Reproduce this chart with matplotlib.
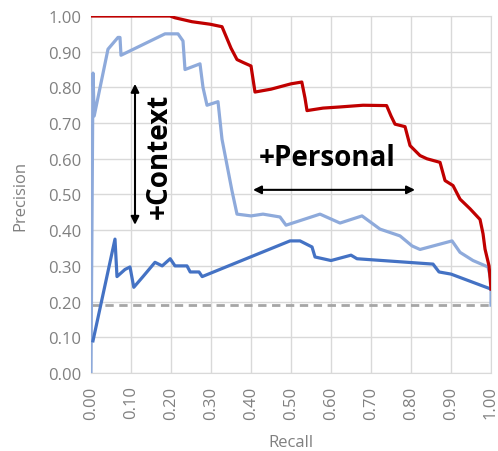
import matplotlib
matplotlib.use("Agg")
import matplotlib.pyplot as plt

plt.rcParams['font.family'] = ['Open Sans', 'DejaVu Sans']

# recall / precision
personal_x = [0.0, 0.1975, 0.21, 0.2525, 0.2975, 0.3275, 0.335, 0.35, 0.365, 0.38, 0.40,
              0.41, 0.45, 0.50, 0.527, 0.535, 0.54, 0.58, 0.62, 0.68, 0.739, 0.75, 0.76,
              0.785, 0.7975, 0.8225, 0.84, 0.8725, 0.885, 0.905, 0.9225, 0.9475, 0.9725,
              0.98, 0.985, 0.995, 1.0]
personal_y = [1.0, 1.0, 0.995, 0.984, 0.977, 0.97, 0.95, 0.91, 0.878, 0.87, 0.86,
              0.787, 0.795, 0.81, 0.815, 0.77, 0.735, 0.742, 0.745, 0.75, 0.749, 0.72, 0.697,
              0.69, 0.637, 0.609, 0.60, 0.59, 0.539, 0.525, 0.487, 0.46, 0.43,
              0.39, 0.347, 0.30, 0.235]

context_x = [0.0, 0.005, 0.008, 0.0425, 0.0675, 0.0725, 0.075, 0.185, 0.2175, 0.23, 0.235,
             0.2725, 0.28, 0.29, 0.3175, 0.3275, 0.3525, 0.365, 0.40, 0.43, 0.4725, 0.4875,
             0.5725, 0.6225, 0.6775, 0.7225, 0.7725, 0.8025, 0.8225, 0.9025, 0.9225, 0.955,
             0.9925, 1.0, 1.0]
context_y = [0.0, 0.84, 0.72, 0.907, 0.94, 0.94, 0.89, 0.95, 0.95, 0.93, 0.85,
             0.866, 0.80, 0.75, 0.76, 0.655, 0.51, 0.445, 0.44, 0.445, 0.437, 0.414,
             0.445, 0.42, 0.44, 0.403, 0.384, 0.356, 0.346, 0.37, 0.338, 0.315,
             0.297, 0.26, 0.19]

base_x = [0.005, 0.06, 0.065, 0.085, 0.0975, 0.107, 0.13, 0.16, 0.178, 0.198, 0.21, 0.24,
          0.248, 0.27, 0.278, 0.4975, 0.5225, 0.5525, 0.56, 0.60, 0.65, 0.665, 0.855,
          0.87, 0.90, 1.0]
base_y = [0.09, 0.375, 0.27, 0.29, 0.297, 0.24, 0.27, 0.31, 0.30, 0.32, 0.30, 0.30,
          0.283, 0.283, 0.27, 0.37, 0.37, 0.353, 0.325, 0.315, 0.33, 0.32, 0.305,
          0.283, 0.277, 0.235]

random_level = 0.19
ticks = [i / 10 for i in range(11)]
tick_labels = ['%.2f' % t for t in ticks]

fig = plt.figure(figsize=(4.98, 4.52), dpi=100)
ax = fig.add_axes([0.1827, 0.1726, 0.8033, 0.7898])

grid_c = '#d9d9d9'
label_c = '#808080'

ax.axhline(random_level, color='#a6a6a6', linestyle=(0, (3, 2)), linewidth=2, zorder=2)
ax.plot(context_x, context_y, color='#8eaadb', linewidth=2.3, zorder=3)
ax.plot(base_x, base_y, color='#4472c4', linewidth=2.3, zorder=4)
ax.plot(personal_x, personal_y, color='#c00000', linewidth=2.3, zorder=5)

ax.set_xlim(0, 1)
ax.set_ylim(0, 1)
ax.set_xticks(ticks)
ax.set_yticks(ticks)
ax.set_xticklabels(tick_labels, rotation=90, fontsize=12, color=label_c)
ax.set_yticklabels(tick_labels, fontsize=12, color=label_c)
ax.tick_params(axis='y', length=0, pad=7)
ax.tick_params(axis='x', length=0, pad=9)
ax.grid(True, color=grid_c, linewidth=1)
ax.set_axisbelow(True)
for s in ax.spines.values():
    s.set_color(grid_c)

ax.set_xlabel('Recall', fontsize=12, color=label_c, labelpad=11)
ax.set_ylabel('Precision', fontsize=12, color=label_c, labelpad=14)

# annotations
ax.annotate('', xy=(0.11, 0.81), xytext=(0.11, 0.415),
            arrowprops=dict(arrowstyle='<|-|>', color='black', lw=1.5,
                            mutation_scale=12, shrinkA=0, shrinkB=0))
ax.text(0.17, 0.61, '+Context', rotation=90, fontsize=20, fontweight='bold',
        ha='center', va='center')
ax.annotate('', xy=(0.405, 0.513), xytext=(0.81, 0.513),
            arrowprops=dict(arrowstyle='<|-|>', color='black', lw=1.5,
                            mutation_scale=12, shrinkA=0, shrinkB=0))
ax.text(0.59, 0.605, '+Personal', fontsize=20, fontweight='bold',
        ha='center', va='center')

fig.savefig('out.png', dpi=100)
